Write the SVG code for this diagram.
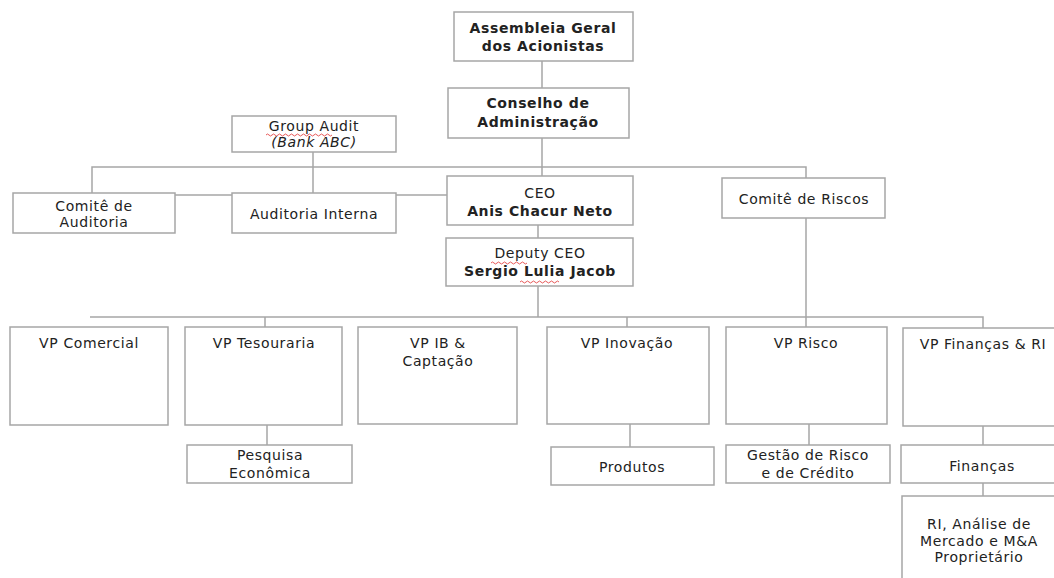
<svg xmlns="http://www.w3.org/2000/svg" width="1054" height="578" viewBox="0 0 1054 578">
<style>
.box{fill:#fff;stroke:#a6a6a6;stroke-width:1.5}
.ln{fill:none;stroke:#a6a6a6;stroke-width:1.5}
text{font-family:"DejaVu Sans",Verdana,sans-serif;font-size:14px;letter-spacing:0.6px;fill:#222;text-anchor:middle}
.b{font-weight:bold}
.i{font-style:italic}
.sq{fill:none;stroke:#e03030;stroke-width:0.8}
</style>
<rect width="1054" height="578" fill="#fff"/>
<g id="connectors">
<path class="ln" d="M542 61V88M542 138V176M92 193V167H806V178M313 152V193M175 195H232M396 195H447M538 225V238M538 286V317M90 317H983V328M265 317V327M627 317V327M806 218V327M267 425V445M630 424V447M809 424V445M983 426V445M983 483V496"/>
</g>
<g id="assembleia"><rect class="box" x="454" y="12" width="179" height="49"/><text class="b" x="543" y="33">Assembleia Geral</text><text class="b" x="543" y="51">dos Acionistas</text></g>
<g id="conselho"><rect class="box" x="448" y="88" width="181" height="50"/><text class="b" x="538" y="108">Conselho de</text><text class="b" x="538" y="127">Administração</text></g>
<g id="group-audit"><rect class="box" x="232" y="116" width="164" height="36"/><text x="314" y="131">Group Audit</text><text class="i" x="314" y="147">(Bank ABC)</text><path class="sq" d="M266 135q1.5 -2 3 0t3 0t3 0t3 0t3 0t3 0t3 0t3 0t3 0t3 0t3 0t3 0t3 0t3 0t3 0t3 0t3 0t3 0t3 0t3 0t3 0t3 0"/></g>
<g id="comite-auditoria"><rect class="box" x="13" y="193" width="162" height="40"/><text x="94" y="211">Comitê de</text><text x="94" y="227">Auditoria</text></g>
<g id="auditoria-interna"><rect class="box" x="232" y="193" width="164" height="40"/><text x="314" y="219">Auditoria Interna</text></g>
<g id="ceo"><rect class="box" x="447" y="176" width="186" height="49"/><text x="540" y="198">CEO</text><text class="b" x="540" y="216">Anis Chacur Neto</text></g>
<g id="deputy-ceo"><rect class="box" x="446" y="238" width="187" height="48"/><text x="540" y="258">Deputy CEO</text><text class="b" x="540" y="276">Sergio Lulia Jacob</text><path class="sq" d="M491 263q1.5 -2 3 0t3 0t3 0t3 0t3 0t3 0t3 0t3 0t3 0t3 0t3 0t3 0"/><path class="sq" d="M520 282q1.5 -2 3 0t3 0t3 0t3 0t3 0t3 0t3 0t3 0t3 0t3 0t3 0t3 0t3 0"/></g>
<g id="comite-riscos"><rect class="box" x="722" y="178" width="163" height="40"/><text x="804" y="204">Comitê de Riscos</text></g>
<g id="vp-comercial"><rect class="box" x="10" y="327" width="158" height="98"/><text x="89" y="348">VP Comercial</text></g>
<g id="vp-tesouraria"><rect class="box" x="185" y="327" width="157" height="98"/><text x="264" y="348">VP Tesouraria</text></g>
<g id="vp-ib"><rect class="box" x="358" y="327" width="159" height="97"/><text x="438" y="348">VP IB &amp;</text><text x="438" y="366">Captação</text></g>
<g id="vp-inovacao"><rect class="box" x="547" y="327" width="162" height="97"/><text x="627" y="348">VP Inovação</text></g>
<g id="vp-risco"><rect class="box" x="726" y="327" width="161" height="97"/><text x="806" y="348">VP Risco</text></g>
<g id="vp-financas"><rect class="box" x="903" y="328" width="160" height="98"/><text x="983" y="349">VP Finanças &amp; RI</text></g>
<g id="pesquisa"><rect class="box" x="187" y="445" width="165" height="38"/><text x="270" y="460">Pesquisa</text><text x="270" y="478">Econômica</text></g>
<g id="produtos"><rect class="box" x="551" y="447" width="163" height="38"/><text x="632" y="472">Produtos</text></g>
<g id="gestao-risco"><rect class="box" x="726" y="445" width="164" height="38"/><text x="808" y="460">Gestão de Risco</text><text x="808" y="478">e de Crédito</text></g>
<g id="financas"><rect class="box" x="901" y="445" width="160" height="38"/><text x="982" y="471">Finanças</text></g>
<g id="ri"><rect class="box" x="902" y="496" width="160" height="90"/><text x="979" y="529">RI, Análise de</text><text x="979" y="546">Mercado e M&amp;A</text><text x="979" y="562">Proprietário</text></g>
</svg>
